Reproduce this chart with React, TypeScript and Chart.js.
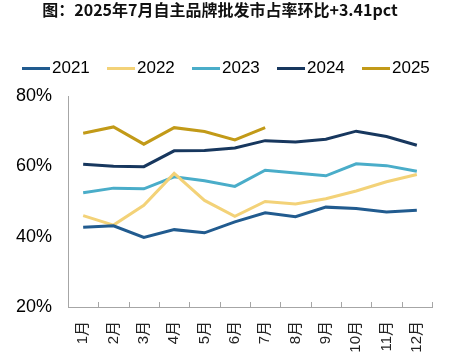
import React, { useEffect, useRef } from "react";
import { Chart, registerables } from "chart.js";

Chart.register(...registerables);

const titleText = "图：2025年7月自主品牌批发市占率环比+3.41pct";
const months = ["1月", "2月", "3月", "4月", "5月", "6月", "7月", "8月", "9月", "10月", "11月", "12月"];
const s2021 = [42.7, 43.1, 39.8, 42.0, 41.1, 44.2, 46.8, 45.7, 48.4, 48.0, 47.0, 47.5];
const s2022 = [46.0, 43.3, 48.9, 58.0, 50.3, 45.8, 50.0, 49.3, 50.8, 53.0, 55.6, 57.7];
const s2023 = [52.5, 53.8, 53.6, 57.0, 55.9, 54.3, 58.9, 58.1, 57.3, 60.7, 60.2, 58.6];
const s2024 = [60.6, 60.0, 59.9, 64.4, 64.5, 65.2, 67.3, 66.9, 67.7, 70.0, 68.5, 66.0];
const s2025 = [69.4, 71.2, 66.3, 71.0, 69.9, 67.5, 71.0];
const yTicks = [20, 40, 60, 80];

const seriesNames = ["2021", "2022", "2023", "2024", "2025"];
const seriesData = [s2021, s2022, s2023, s2024, s2025];
const seriesColors = ["#215b8f", "#f3d278", "#4aadc9", "#17375e", "#c29a18"];

const axisColor = "#a6a6a6";
const latinFont = "'Liberation Sans', Arial, sans-serif";

const innerTicks = {
  id: "innerTicks",
  afterDraw(chart: any) {
    const x = chart.scales.x;
    const ctx = chart.ctx;
    const bottom = chart.chartArea.bottom;
    ctx.save();
    ctx.strokeStyle = axisColor;
    ctx.lineWidth = 1;
    for (let i = 1; i <= months.length; i++) {
      const px = Math.round(x.getPixelForValue(i - 0.5)) + 0.5;
      ctx.beginPath();
      ctx.moveTo(px, bottom);
      ctx.lineTo(px, bottom - 5);
      ctx.stroke();
    }
    ctx.restore();
  },
};

export default function App() {
  const ref = useRef<HTMLCanvasElement | null>(null);
  useEffect(() => {
    document.body.style.margin = "0";
    if (!ref.current) return;
    const chart = new Chart(ref.current, {
      type: "line",
      data: {
        labels: months,
        datasets: seriesNames.map((n, i) => ({
          label: n,
          data: seriesData[i],
          borderColor: seriesColors[i],
          backgroundColor: seriesColors[i],
          borderWidth: 3,
          pointRadius: 0,
          tension: 0,
          fill: false,
        })),
      },
      options: {
        animation: false,
        responsive: false,
        maintainAspectRatio: false,
        layout: { padding: { top: 96, right: 28, left: 0, bottom: 0 } },
        plugins: {
          title: { display: false },
          tooltip: { enabled: false },
          legend: { display: false },
        },
        scales: {
          x: {
            offset: true,
            grid: { display: true, drawOnChartArea: false, drawTicks: false, offset: true },
            border: { display: true, color: axisColor, width: 1 },
            ticks: {
              autoSkip: false,
              minRotation: 90,
              maxRotation: 90,
              padding: 14,
              color: "#222",
              font: { family: "'Liberation Sans', 'Noto Sans CJK SC', sans-serif", size: 15 },
            },
            afterFit: (s: any) => {
              s.height = 49;
            },
          },
          y: {
            min: 20,
            max: 80,
            afterBuildTicks: (s: any) => {
              s.ticks = yTicks.map((v) => ({ value: v }));
            },
            grid: { display: false, drawTicks: false },
            border: { display: true, color: axisColor, width: 1 },
            ticks: {
              padding: 16,
              color: "#000",
              font: { family: latinFont, size: 18 },
              callback: (v: any) => v + "%",
            },
            afterFit: (s: any) => {
              s.width = 68;
            },
          },
        },
      },
      plugins: [innerTicks],
    });
    return () => chart.destroy();
  }, []);
  return (
    <div style={{ position: "relative", width: 460, height: 356, background: "#fff" }}>
      <canvas ref={ref} width={460} height={356} style={{ position: "absolute", left: 0, top: 0 }} />
      <div
        style={{
          position: "absolute",
          left: 0,
          top: 0,
          width: 440,
          textAlign: "center",
          fontFamily: "'Noto Sans CJK SC', sans-serif",
          fontWeight: 700,
          fontSize: 16,
          lineHeight: "18px",
          color: "#111",
          whiteSpace: "nowrap",
        }}
      >
        {titleText}
      </div>
      <div
        style={{
          position: "absolute",
          left: 22,
          top: 58,
          height: 20,
          display: "flex",
          alignItems: "center",
          fontFamily: latinFont,
          fontSize: 17,
          color: "#000",
          whiteSpace: "nowrap",
        }}
      >
        {seriesNames.map((n, i) => (
          <div key={n} style={{ display: "flex", alignItems: "center", width: 85 }}>
            <span style={{ display: "inline-block", width: 28, height: 3, background: seriesColors[i], marginRight: 2 }} />
            <span>{n}</span>
          </div>
        ))}
      </div>
    </div>
  );
}
